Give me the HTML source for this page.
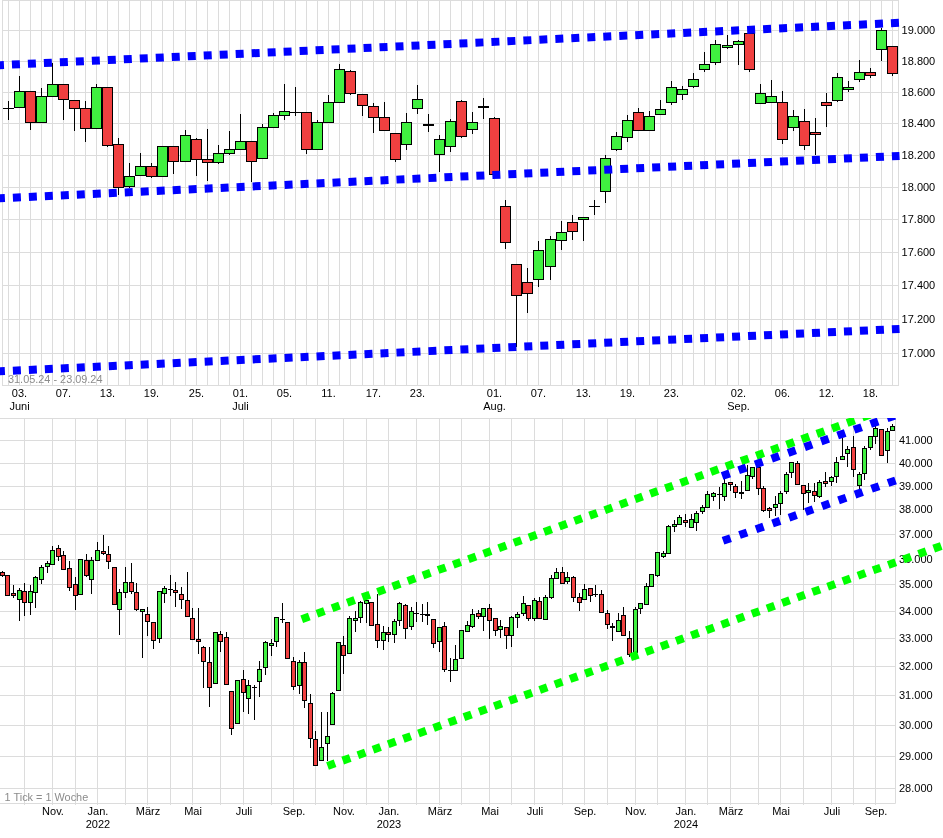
<!DOCTYPE html>
<html><head><meta charset="utf-8"><style>
html,body{margin:0;padding:0;background:#fff;}
body{width:943px;height:838px;overflow:hidden;}
svg{display:block;will-change:transform;}
text{font-family:"Liberation Sans",Arial,sans-serif;font-size:11px;}
.ax text{fill:#000;}
.note{fill:#8c8c8c;font-size:10.9px;}
</style></head><body>
<svg width="943" height="838" viewBox="0 0 943 838">
<rect width="943" height="838" fill="#fff"/>
<path d="M8.5 0V385M19.5 0V385M30.5 0V385M41.5 0V385M52.5 0V385M63.5 0V385M74.5 0V385M85.5 0V385M96.5 0V385M107.5 0V385M118.5 0V385M129.5 0V385M140.5 0V385M151.5 0V385M162.5 0V385M173.5 0V385M185.5 0V385M196.5 0V385M207.5 0V385M218.5 0V385M229.5 0V385M240.5 0V385M251.5 0V385M262.5 0V385M273.5 0V385M284.5 0V385M295.5 0V385M306.5 0V385M317.5 0V385M328.5 0V385M339.5 0V385M350.5 0V385M362.5 0V385M373.5 0V385M384.5 0V385M395.5 0V385M406.5 0V385M417.5 0V385M428.5 0V385M439.5 0V385M450.5 0V385M461.5 0V385M472.5 0V385M483.5 0V385M494.5 0V385M505.5 0V385M516.5 0V385M527.5 0V385M538.5 0V385M550.5 0V385M561.5 0V385M572.5 0V385M583.5 0V385M594.5 0V385M605.5 0V385M616.5 0V385M627.5 0V385M638.5 0V385M649.5 0V385M660.5 0V385M671.5 0V385M682.5 0V385M693.5 0V385M704.5 0V385M715.5 0V385M727.5 0V385M738.5 0V385M749.5 0V385M760.5 0V385M771.5 0V385M782.5 0V385M793.5 0V385M804.5 0V385M815.5 0V385M826.5 0V385M837.5 0V385M848.5 0V385M859.5 0V385M870.5 0V385M881.5 0V385M892.5 0V385M2 353.5H898M2 319.5H898M2 285.5H898M2 252.5H898M2 219.5H898M2 187.5H898M2 155.5H898M2 123.5H898M2 92.5H898M2 61.5H898M2 30.5H898" stroke="#dcdcdc" stroke-width="1" fill="none"/>
<rect x="2.5" y="0.5" width="896" height="385" fill="none" stroke="#dcdcdc"/>
<g class="ax"><text x="901.6" y="356.5">17.000</text><text x="901.6" y="322.5">17.200</text><text x="901.6" y="288.5">17.400</text><text x="901.6" y="255.5">17.600</text><text x="901.6" y="222.5">17.800</text><text x="901.6" y="190.5">18.000</text><text x="901.6" y="158.5">18.200</text><text x="901.6" y="126.5">18.400</text><text x="901.6" y="95.5">18.600</text><text x="901.6" y="64.5">18.800</text><text x="901.6" y="33.5">19.000</text></g>
<g class="ax" text-anchor="middle"><text x="19.5" y="397">03.</text><text x="19.5" y="410">Juni</text><text x="63.5" y="397">07.</text><text x="107.5" y="397">13.</text><text x="151.5" y="397">19.</text><text x="196.5" y="397">25.</text><text x="240.5" y="397">01.</text><text x="240.5" y="410">Juli</text><text x="284.5" y="397">05.</text><text x="328.5" y="397">11.</text><text x="373.5" y="397">17.</text><text x="417.5" y="397">23.</text><text x="494.5" y="397">01.</text><text x="494.5" y="410">Aug.</text><text x="538.5" y="397">07.</text><text x="583.5" y="397">13.</text><text x="627.5" y="397">19.</text><text x="671.5" y="397">23.</text><text x="738.5" y="397">02.</text><text x="738.5" y="410">Sep.</text><text x="782.5" y="397">06.</text><text x="826.5" y="397">12.</text><text x="870.5" y="397">18.</text></g>
<text class="note" x="8" y="383">31.05.24 - 23.09.24</text>
<path d="M8.5 101V120M3 108.5H14M19.5 76V107M30.5 91V130M41.5 88V122M52.5 63V96M63.5 84V120M74.5 100V131M85.5 101V142M96.5 84V128M107.5 87V147M118.5 138V195M129.5 163V188M140.5 153V175M151.5 163V178M162.5 146V176M173.5 146V174M185.5 130V161M196.5 138V176M207.5 129V181M218.5 145V164M229.5 131V155M240.5 114V149M251.5 141V182M262.5 124V158M273.5 113V127M284.5 84V120M295.5 87V116M290 112.5H301M306.5 112V154M317.5 120V149M328.5 95V122M339.5 64V103M350.5 70V95M362.5 94V116M373.5 103V133M384.5 102V131M395.5 133V162M406.5 113V150M417.5 85V114M428.5 114V132M423 124.5H434M423 125.5H434M439.5 135V172M450.5 119V152M461.5 100V138M472.5 112V134M483.5 98V119M478 106.5H489M478 107.5H489M494.5 117V174M505.5 200V249M516.5 264V347M527.5 268V313M538.5 241V287M550.5 236V280M561.5 221V250M572.5 215V240M583.5 217V241M594.5 200V215M589 206.5H600M605.5 155V203M616.5 132V151M627.5 115V142M638.5 108V131M649.5 111V131M660.5 100V114M671.5 81V105M682.5 86V100M693.5 73V88M704.5 52V72M715.5 40V65M727.5 35V49M738.5 40V65M749.5 33V72M760.5 84V103M771.5 80V102M782.5 91V144M793.5 110V131M804.5 109V150M815.5 118V155M826.5 93V127M837.5 73V102M848.5 81V92M859.5 60V82M870.5 68V78M881.5 28V61M892.5 46V76" stroke="#000" fill="none"/><g stroke="#000"><rect x="14.5" y="91.5" width="10" height="16" fill="#40f040"/><rect x="25.5" y="91.5" width="10" height="31" fill="#f04040"/><rect x="36.5" y="96.5" width="10" height="26" fill="#40f040"/><rect x="47.5" y="84.5" width="10" height="12" fill="#40f040"/><rect x="58.5" y="84.5" width="10" height="15" fill="#f04040"/><rect x="69.5" y="100.5" width="10" height="8" fill="#f04040"/><rect x="80.5" y="108.5" width="10" height="20" fill="#f04040"/><rect x="91.5" y="87.5" width="10" height="41" fill="#40f040"/><rect x="102.5" y="87.5" width="10" height="58" fill="#f04040"/><rect x="113.5" y="144.5" width="10" height="43" fill="#f04040"/><rect x="124.5" y="176.5" width="10" height="10" fill="#40f040"/><rect x="135.5" y="166.5" width="10" height="9" fill="#40f040"/><rect x="146.5" y="166.5" width="10" height="10" fill="#f04040"/><rect x="157.5" y="146.5" width="10" height="30" fill="#40f040"/><rect x="168.5" y="146.5" width="10" height="15" fill="#f04040"/><rect x="180.5" y="135.5" width="10" height="26" fill="#40f040"/><rect x="191.5" y="139.5" width="10" height="20" fill="#f04040"/><rect x="202.5" y="159.5" width="10" height="3" fill="#f04040"/><rect x="213.5" y="153.5" width="10" height="9" fill="#40f040"/><rect x="224.5" y="149.5" width="10" height="4" fill="#40f040"/><rect x="235.5" y="141.5" width="10" height="8" fill="#40f040"/><rect x="246.5" y="141.5" width="10" height="20" fill="#f04040"/><rect x="257.5" y="127.5" width="10" height="31" fill="#40f040"/><rect x="268.5" y="115.5" width="10" height="12" fill="#40f040"/><rect x="279.5" y="111.5" width="10" height="4" fill="#40f040"/><rect x="301.5" y="112.5" width="10" height="37" fill="#f04040"/><rect x="312.5" y="122.5" width="10" height="27" fill="#40f040"/><rect x="323.5" y="102.5" width="10" height="20" fill="#40f040"/><rect x="334.5" y="69.5" width="10" height="33" fill="#40f040"/><rect x="345.5" y="71.5" width="10" height="22" fill="#f04040"/><rect x="357.5" y="94.5" width="10" height="11" fill="#f04040"/><rect x="368.5" y="106.5" width="10" height="11" fill="#f04040"/><rect x="379.5" y="117.5" width="10" height="13" fill="#f04040"/><rect x="390.5" y="133.5" width="10" height="26" fill="#f04040"/><rect x="401.5" y="122.5" width="10" height="22" fill="#40f040"/><rect x="412.5" y="99.5" width="10" height="9" fill="#40f040"/><rect x="434.5" y="139.5" width="10" height="15" fill="#40f040"/><rect x="445.5" y="121.5" width="10" height="25" fill="#40f040"/><rect x="456.5" y="101.5" width="10" height="35" fill="#f04040"/><rect x="467.5" y="122.5" width="10" height="7" fill="#40f040"/><rect x="489.5" y="118.5" width="10" height="56" fill="#f04040"/><rect x="500.5" y="206.5" width="10" height="36" fill="#f04040"/><rect x="511.5" y="264.5" width="10" height="31" fill="#f04040"/><rect x="522.5" y="282.5" width="10" height="11" fill="#f04040"/><rect x="533.5" y="250.5" width="10" height="29" fill="#40f040"/><rect x="545.5" y="239.5" width="10" height="27" fill="#40f040"/><rect x="556.5" y="232.5" width="10" height="8" fill="#40f040"/><rect x="567.5" y="222.5" width="10" height="9" fill="#f04040"/><rect x="578.5" y="217.5" width="10" height="2" fill="#40f040"/><rect x="600.5" y="158.5" width="10" height="33" fill="#40f040"/><rect x="611.5" y="136.5" width="10" height="13" fill="#40f040"/><rect x="622.5" y="120.5" width="10" height="17" fill="#40f040"/><rect x="633.5" y="112.5" width="10" height="18" fill="#f04040"/><rect x="644.5" y="116.5" width="10" height="14" fill="#40f040"/><rect x="655.5" y="109.5" width="10" height="5" fill="#40f040"/><rect x="666.5" y="87.5" width="10" height="15" fill="#40f040"/><rect x="677.5" y="89.5" width="10" height="5" fill="#40f040"/><rect x="688.5" y="79.5" width="10" height="7" fill="#40f040"/><rect x="699.5" y="64.5" width="10" height="5" fill="#40f040"/><rect x="710.5" y="44.5" width="10" height="18" fill="#40f040"/><rect x="722.5" y="45.5" width="10" height="2" fill="#40f040"/><rect x="733.5" y="41.5" width="10" height="3" fill="#40f040"/><rect x="744.5" y="33.5" width="10" height="36" fill="#f04040"/><rect x="755.5" y="93.5" width="10" height="10" fill="#40f040"/><rect x="766.5" y="96.5" width="10" height="6" fill="#40f040"/><rect x="777.5" y="102.5" width="10" height="37" fill="#f04040"/><rect x="788.5" y="116.5" width="10" height="11" fill="#40f040"/><rect x="799.5" y="121.5" width="10" height="24" fill="#f04040"/><rect x="810.5" y="132.5" width="10" height="2" fill="#f04040"/><rect x="821.5" y="102.5" width="10" height="3" fill="#f04040"/><rect x="832.5" y="77.5" width="10" height="23" fill="#40f040"/><rect x="843.5" y="87.5" width="10" height="2" fill="#40f040"/><rect x="854.5" y="72.5" width="10" height="7" fill="#40f040"/><rect x="865.5" y="72.5" width="10" height="3" fill="#f04040"/><rect x="876.5" y="30.5" width="10" height="19" fill="#40f040"/><rect x="887.5" y="46.5" width="10" height="27" fill="#f04040"/></g>
<g>
<line x1="-4.05" y1="65.34" x2="899.50" y2="22.78" stroke="#0000ff" stroke-width="8" stroke-dasharray="8 8" />
<line x1="-3.10" y1="198.45" x2="899.50" y2="155.93" stroke="#0000ff" stroke-width="8" stroke-dasharray="8 8" />
<line x1="-3.10" y1="371.45" x2="899.50" y2="328.93" stroke="#0000ff" stroke-width="8" stroke-dasharray="8 8" />
</g>
<path d="M24.5 418V805M52.5 418V805M75.5 418V805M97.5 418V805M125.5 418V805M147.5 418V805M170.5 418V805M192.5 418V805M220.5 418V805M243.5 418V805M271.5 418V805M293.5 418V805M315.5 418V805M343.5 418V805M366.5 418V805M388.5 418V805M416.5 418V805M439.5 418V805M461.5 418V805M489.5 418V805M511.5 418V805M534.5 418V805M562.5 418V805M584.5 418V805M607.5 418V805M635.5 418V805M657.5 418V805M685.5 418V805M707.5 418V805M730.5 418V805M758.5 418V805M780.5 418V805M803.5 418V805M831.5 418V805M853.5 418V805M875.5 418V805M0 788.5H895M0 756.5H895M0 725.5H895M0 695.5H895M0 666.5H895M0 638.5H895M0 611.5H895M0 584.5H895M0 559.5H895M0 534.5H895M0 509.5H895M0 486.5H895M0 463.5H895M0 440.5H895" stroke="#dcdcdc" fill="none"/>
<path d="M0 418.5H895.5V803.5H0" stroke="#dcdcdc" fill="none"/>
<g class="ax"><text x="899" y="791.5">28.000</text><text x="899" y="759.5">29.000</text><text x="899" y="728.5">30.000</text><text x="899" y="698.5">31.000</text><text x="899" y="669.5">32.000</text><text x="899" y="641.5">33.000</text><text x="899" y="614.5">34.000</text><text x="899" y="587.5">35.000</text><text x="899" y="562.5">36.000</text><text x="899" y="537.5">37.000</text><text x="899" y="512.5">38.000</text><text x="899" y="489.5">39.000</text><text x="899" y="466.5">40.000</text><text x="899" y="443.5">41.000</text></g>
<g class="ax" text-anchor="middle"><text x="53.0" y="815">Nov.</text><text x="98.0" y="815">Jan.</text><text x="98.0" y="828">2022</text><text x="148.0" y="815">März</text><text x="193.0" y="815">Mai</text><text x="244.0" y="815">Juli</text><text x="294.0" y="815">Sep.</text><text x="344.0" y="815">Nov.</text><text x="389.0" y="815">Jan.</text><text x="389.0" y="828">2023</text><text x="440.0" y="815">März</text><text x="490.0" y="815">Mai</text><text x="535.0" y="815">Juli</text><text x="585.0" y="815">Sep.</text><text x="636.0" y="815">Nov.</text><text x="686.0" y="815">Jan.</text><text x="686.0" y="828">2024</text><text x="731.0" y="815">März</text><text x="781.0" y="815">Mai</text><text x="832.0" y="815">Juli</text><text x="876.0" y="815">Sep.</text></g>
<text class="note" x="4.6" y="801">1 Tick = 1 Woche</text>
<path d="M2.5 571V577M7.5 575V595M13.5 585V598M19.5 588V621M24.5 583V616M30.5 585V615M35.5 576V608M41.5 565V584M47.5 561V573M52.5 546V564M58.5 545V561M63.5 551V570M69.5 561V591M75.5 577V610M80.5 559V594M86.5 554V577M91.5 557V594M97.5 542V560M103.5 535V555M108.5 546V569M114.5 567V604M119.5 589V635M125.5 567V598M131.5 563V594M136.5 583V611M142.5 609V658M147.5 607V636M153.5 622V649M159.5 591V643M164.5 586V603M170.5 575V596M168 589.5H173M175.5 582V607M181.5 587V609M187.5 572V616M192.5 608V640M198.5 608V654M203.5 646V688M209.5 647V707M215.5 632V684M220.5 631V652M226.5 632V684M231.5 691V735M237.5 680V723M243.5 670V712M248.5 680V714M254.5 685V720M252 687.5H257M259.5 661V697M265.5 641V675M271.5 639V656M276.5 617V647M282.5 603V623M280 619.5H285M287.5 622V658M293.5 657V690M299.5 660V694M304.5 652V708M310.5 694V748M315.5 731V765M321.5 712V760M327.5 712V761M332.5 692V724M338.5 642V690M343.5 636V674M349.5 616V653M355.5 611V632M360.5 601V623M366.5 600V623M371.5 602V626M377.5 594V648M383.5 626V650M388.5 627V642M394.5 619V643M399.5 602V626M405.5 604V639M411.5 607V630M416.5 602V622M414 613.5H419M422.5 604V622M420 614.5H425M427.5 602V625M425 614.5H430M425 615.5H430M433.5 619V648M439.5 627V652M444.5 622V672M450.5 658V682M448 670.5H453M455.5 645V670M461.5 630V658M467.5 621V631M472.5 609V628M478.5 610V619M483.5 608V631M489.5 604V639M495.5 618V636M500.5 620V638M506.5 627V649M511.5 616V647M517.5 612V628M523.5 596V616M528.5 605V621M534.5 598V621M539.5 597V618M545.5 595V619M551.5 575V599M556.5 568V579M562.5 567V583M567.5 572V584M573.5 576V602M579.5 593V611M584.5 584V599M590.5 588V602M595.5 585V597M593 594.5H598M601.5 590V612M607.5 610V629M612.5 623V641M610 626.5H615M610 627.5H615M618.5 613V631M623.5 607V635M629.5 631V657M635.5 607V652M640.5 603V614M646.5 583V605M651.5 574V586M657.5 552V577M663.5 551V558M668.5 525V553M674.5 520V532M679.5 515V524M685.5 514V527M691.5 514V528M696.5 511V531M702.5 505V514M707.5 491V507M713.5 492V501M719.5 487V509M717 494.5H722M724.5 479V501M730.5 482V491M735.5 484V498M741.5 481V499M739 492.5H744M739 493.5H744M747.5 465V491M752.5 467V479M758.5 467V495M763.5 486V512M769.5 507V518M775.5 496V516M780.5 491V515M786.5 472V494M791.5 462V478M797.5 461V485M803.5 485V510M808.5 483V503M814.5 483V502M819.5 480V498M825.5 472V487M831.5 476V486M836.5 457V483M842.5 438V459M847.5 446V467M853.5 436V477M859.5 472V489M864.5 446V480M870.5 436V450M875.5 426V444M881.5 429V456M887.5 428V463M892.5 424V430" stroke="#000" fill="none"/><g stroke="#000"><rect x="0.5" y="572.5" width="4" height="3" fill="#f04040"/><rect x="5.5" y="575.5" width="4" height="20" fill="#f04040"/><rect x="11.5" y="593.5" width="4" height="2" fill="#f04040"/><rect x="17.5" y="590.5" width="4" height="9" fill="#40f040"/><rect x="22.5" y="591.5" width="4" height="11" fill="#f04040"/><rect x="28.5" y="591.5" width="4" height="11" fill="#40f040"/><rect x="33.5" y="577.5" width="4" height="15" fill="#40f040"/><rect x="39.5" y="567.5" width="4" height="12" fill="#40f040"/><rect x="45.5" y="563.5" width="4" height="3" fill="#40f040"/><rect x="50.5" y="550.5" width="4" height="14" fill="#40f040"/><rect x="56.5" y="548.5" width="4" height="8" fill="#f04040"/><rect x="61.5" y="555.5" width="4" height="14" fill="#f04040"/><rect x="67.5" y="568.5" width="4" height="19" fill="#f04040"/><rect x="73.5" y="584.5" width="4" height="11" fill="#f04040"/><rect x="78.5" y="559.5" width="4" height="35" fill="#40f040"/><rect x="84.5" y="560.5" width="4" height="15" fill="#f04040"/><rect x="89.5" y="560.5" width="4" height="19" fill="#40f040"/><rect x="95.5" y="550.5" width="4" height="10" fill="#40f040"/><rect x="101.5" y="551.5" width="4" height="2" fill="#f04040"/><rect x="106.5" y="554.5" width="4" height="7" fill="#f04040"/><rect x="112.5" y="567.5" width="4" height="37" fill="#f04040"/><rect x="117.5" y="592.5" width="4" height="17" fill="#40f040"/><rect x="123.5" y="582.5" width="4" height="10" fill="#40f040"/><rect x="129.5" y="582.5" width="4" height="9" fill="#f04040"/><rect x="134.5" y="592.5" width="4" height="17" fill="#f04040"/><rect x="140.5" y="609.5" width="4" height="2" fill="#40f040"/><rect x="145.5" y="614.5" width="4" height="7" fill="#f04040"/><rect x="151.5" y="622.5" width="4" height="18" fill="#f04040"/><rect x="157.5" y="591.5" width="4" height="47" fill="#40f040"/><rect x="162.5" y="588.5" width="4" height="5" fill="#40f040"/><rect x="173.5" y="590.5" width="4" height="2" fill="#f04040"/><rect x="179.5" y="594.5" width="4" height="5" fill="#f04040"/><rect x="185.5" y="600.5" width="4" height="16" fill="#f04040"/><rect x="190.5" y="618.5" width="4" height="21" fill="#f04040"/><rect x="196.5" y="639.5" width="4" height="2" fill="#f04040"/><rect x="201.5" y="647.5" width="4" height="14" fill="#f04040"/><rect x="207.5" y="662.5" width="4" height="25" fill="#f04040"/><rect x="213.5" y="632.5" width="4" height="51" fill="#40f040"/><rect x="218.5" y="634.5" width="4" height="7" fill="#f04040"/><rect x="224.5" y="637.5" width="4" height="47" fill="#f04040"/><rect x="229.5" y="691.5" width="4" height="37" fill="#f04040"/><rect x="235.5" y="680.5" width="4" height="43" fill="#40f040"/><rect x="241.5" y="679.5" width="4" height="13" fill="#f04040"/><rect x="246.5" y="685.5" width="4" height="13" fill="#40f040"/><rect x="257.5" y="669.5" width="4" height="12" fill="#40f040"/><rect x="263.5" y="642.5" width="4" height="25" fill="#40f040"/><rect x="269.5" y="643.5" width="4" height="2" fill="#40f040"/><rect x="274.5" y="617.5" width="4" height="24" fill="#40f040"/><rect x="285.5" y="622.5" width="4" height="36" fill="#f04040"/><rect x="291.5" y="661.5" width="4" height="25" fill="#f04040"/><rect x="297.5" y="662.5" width="4" height="23" fill="#40f040"/><rect x="302.5" y="662.5" width="4" height="38" fill="#f04040"/><rect x="308.5" y="703.5" width="4" height="35" fill="#f04040"/><rect x="313.5" y="739.5" width="4" height="26" fill="#f04040"/><rect x="319.5" y="747.5" width="4" height="13" fill="#40f040"/><rect x="325.5" y="736.5" width="4" height="7" fill="#40f040"/><rect x="330.5" y="693.5" width="4" height="31" fill="#40f040"/><rect x="336.5" y="642.5" width="4" height="48" fill="#40f040"/><rect x="341.5" y="645.5" width="4" height="10" fill="#f04040"/><rect x="347.5" y="618.5" width="4" height="35" fill="#40f040"/><rect x="353.5" y="618.5" width="4" height="2" fill="#40f040"/><rect x="358.5" y="602.5" width="4" height="15" fill="#40f040"/><rect x="364.5" y="600.5" width="4" height="3" fill="#40f040"/><rect x="369.5" y="602.5" width="4" height="23" fill="#f04040"/><rect x="375.5" y="624.5" width="4" height="16" fill="#f04040"/><rect x="381.5" y="632.5" width="4" height="8" fill="#40f040"/><rect x="386.5" y="632.5" width="4" height="2" fill="#f04040"/><rect x="392.5" y="621.5" width="4" height="13" fill="#40f040"/><rect x="397.5" y="603.5" width="4" height="17" fill="#40f040"/><rect x="403.5" y="605.5" width="4" height="23" fill="#f04040"/><rect x="409.5" y="611.5" width="4" height="15" fill="#40f040"/><rect x="431.5" y="619.5" width="4" height="24" fill="#f04040"/><rect x="437.5" y="627.5" width="4" height="14" fill="#40f040"/><rect x="442.5" y="626.5" width="4" height="43" fill="#f04040"/><rect x="453.5" y="659.5" width="4" height="11" fill="#40f040"/><rect x="459.5" y="630.5" width="4" height="28" fill="#40f040"/><rect x="465.5" y="625.5" width="4" height="6" fill="#40f040"/><rect x="470.5" y="614.5" width="4" height="12" fill="#40f040"/><rect x="476.5" y="613.5" width="4" height="3" fill="#f04040"/><rect x="481.5" y="608.5" width="4" height="8" fill="#40f040"/><rect x="487.5" y="608.5" width="4" height="12" fill="#f04040"/><rect x="493.5" y="618.5" width="4" height="12" fill="#f04040"/><rect x="498.5" y="626.5" width="4" height="3" fill="#40f040"/><rect x="504.5" y="627.5" width="4" height="8" fill="#f04040"/><rect x="509.5" y="617.5" width="4" height="18" fill="#40f040"/><rect x="515.5" y="614.5" width="4" height="3" fill="#40f040"/><rect x="521.5" y="603.5" width="4" height="10" fill="#40f040"/><rect x="526.5" y="605.5" width="4" height="13" fill="#f04040"/><rect x="532.5" y="600.5" width="4" height="18" fill="#40f040"/><rect x="537.5" y="601.5" width="4" height="17" fill="#f04040"/><rect x="543.5" y="597.5" width="4" height="22" fill="#40f040"/><rect x="549.5" y="578.5" width="4" height="19" fill="#40f040"/><rect x="554.5" y="572.5" width="4" height="6" fill="#40f040"/><rect x="560.5" y="572.5" width="4" height="11" fill="#f04040"/><rect x="565.5" y="577.5" width="4" height="4" fill="#40f040"/><rect x="571.5" y="577.5" width="4" height="20" fill="#f04040"/><rect x="577.5" y="597.5" width="4" height="5" fill="#f04040"/><rect x="582.5" y="589.5" width="4" height="10" fill="#40f040"/><rect x="588.5" y="588.5" width="4" height="7" fill="#f04040"/><rect x="599.5" y="594.5" width="4" height="18" fill="#f04040"/><rect x="605.5" y="613.5" width="4" height="11" fill="#f04040"/><rect x="616.5" y="620.5" width="4" height="11" fill="#40f040"/><rect x="621.5" y="615.5" width="4" height="20" fill="#f04040"/><rect x="627.5" y="638.5" width="4" height="16" fill="#f04040"/><rect x="633.5" y="609.5" width="4" height="43" fill="#40f040"/><rect x="638.5" y="603.5" width="4" height="5" fill="#40f040"/><rect x="644.5" y="586.5" width="4" height="18" fill="#40f040"/><rect x="649.5" y="574.5" width="4" height="12" fill="#40f040"/><rect x="655.5" y="552.5" width="4" height="23" fill="#40f040"/><rect x="661.5" y="553.5" width="4" height="3" fill="#40f040"/><rect x="666.5" y="526.5" width="4" height="27" fill="#40f040"/><rect x="672.5" y="524.5" width="4" height="2" fill="#40f040"/><rect x="677.5" y="517.5" width="4" height="7" fill="#40f040"/><rect x="683.5" y="520.5" width="4" height="2" fill="#f04040"/><rect x="689.5" y="519.5" width="4" height="8" fill="#40f040"/><rect x="694.5" y="513.5" width="4" height="9" fill="#40f040"/><rect x="700.5" y="507.5" width="4" height="4" fill="#40f040"/><rect x="705.5" y="494.5" width="4" height="13" fill="#40f040"/><rect x="711.5" y="493.5" width="4" height="3" fill="#40f040"/><rect x="722.5" y="483.5" width="4" height="13" fill="#40f040"/><rect x="728.5" y="482.5" width="4" height="2" fill="#f04040"/><rect x="733.5" y="486.5" width="4" height="6" fill="#f04040"/><rect x="745.5" y="475.5" width="4" height="15" fill="#40f040"/><rect x="750.5" y="467.5" width="4" height="9" fill="#40f040"/><rect x="756.5" y="467.5" width="4" height="21" fill="#f04040"/><rect x="761.5" y="488.5" width="4" height="22" fill="#f04040"/><rect x="767.5" y="508.5" width="4" height="2" fill="#f04040"/><rect x="773.5" y="504.5" width="4" height="3" fill="#40f040"/><rect x="778.5" y="493.5" width="4" height="10" fill="#40f040"/><rect x="784.5" y="474.5" width="4" height="17" fill="#40f040"/><rect x="789.5" y="462.5" width="4" height="10" fill="#40f040"/><rect x="795.5" y="463.5" width="4" height="21" fill="#f04040"/><rect x="801.5" y="485.5" width="4" height="8" fill="#f04040"/><rect x="806.5" y="490.5" width="4" height="2" fill="#40f040"/><rect x="812.5" y="491.5" width="4" height="4" fill="#f04040"/><rect x="817.5" y="482.5" width="4" height="14" fill="#40f040"/><rect x="823.5" y="481.5" width="4" height="2" fill="#f04040"/><rect x="829.5" y="477.5" width="4" height="4" fill="#40f040"/><rect x="834.5" y="462.5" width="4" height="14" fill="#40f040"/><rect x="840.5" y="456.5" width="4" height="3" fill="#40f040"/><rect x="845.5" y="449.5" width="4" height="4" fill="#40f040"/><rect x="851.5" y="447.5" width="4" height="22" fill="#f04040"/><rect x="857.5" y="474.5" width="4" height="11" fill="#40f040"/><rect x="862.5" y="448.5" width="4" height="25" fill="#40f040"/><rect x="868.5" y="436.5" width="4" height="11" fill="#40f040"/><rect x="873.5" y="428.5" width="4" height="8" fill="#40f040"/><rect x="879.5" y="429.5" width="4" height="26" fill="#f04040"/><rect x="885.5" y="431.5" width="4" height="19" fill="#40f040"/><rect x="890.5" y="426.5" width="4" height="4" fill="#40f040"/></g>
<defs><clipPath id="cb"><rect x="0" y="418" width="943" height="420"/></clipPath></defs>
<g clip-path="url(#cb)">
<line x1="301.74" y1="619.15" x2="900.00" y2="403.96" stroke="#00ff00" stroke-width="8" stroke-dasharray="8 8.10"/>
<line x1="327.53" y1="766.05" x2="950.00" y2="542.77" stroke="#00ff00" stroke-width="8" stroke-dasharray="8 8.10"/>
<line x1="722.12" y1="476.02" x2="900.00" y2="413.76" stroke="#0000ff" stroke-width="8" stroke-dasharray="8 9.48"/>
<line x1="723.02" y1="540.82" x2="896.50" y2="480.10" stroke="#0000ff" stroke-width="8" stroke-dasharray="8 9.48"/>
</g>
</svg>
</body></html>
